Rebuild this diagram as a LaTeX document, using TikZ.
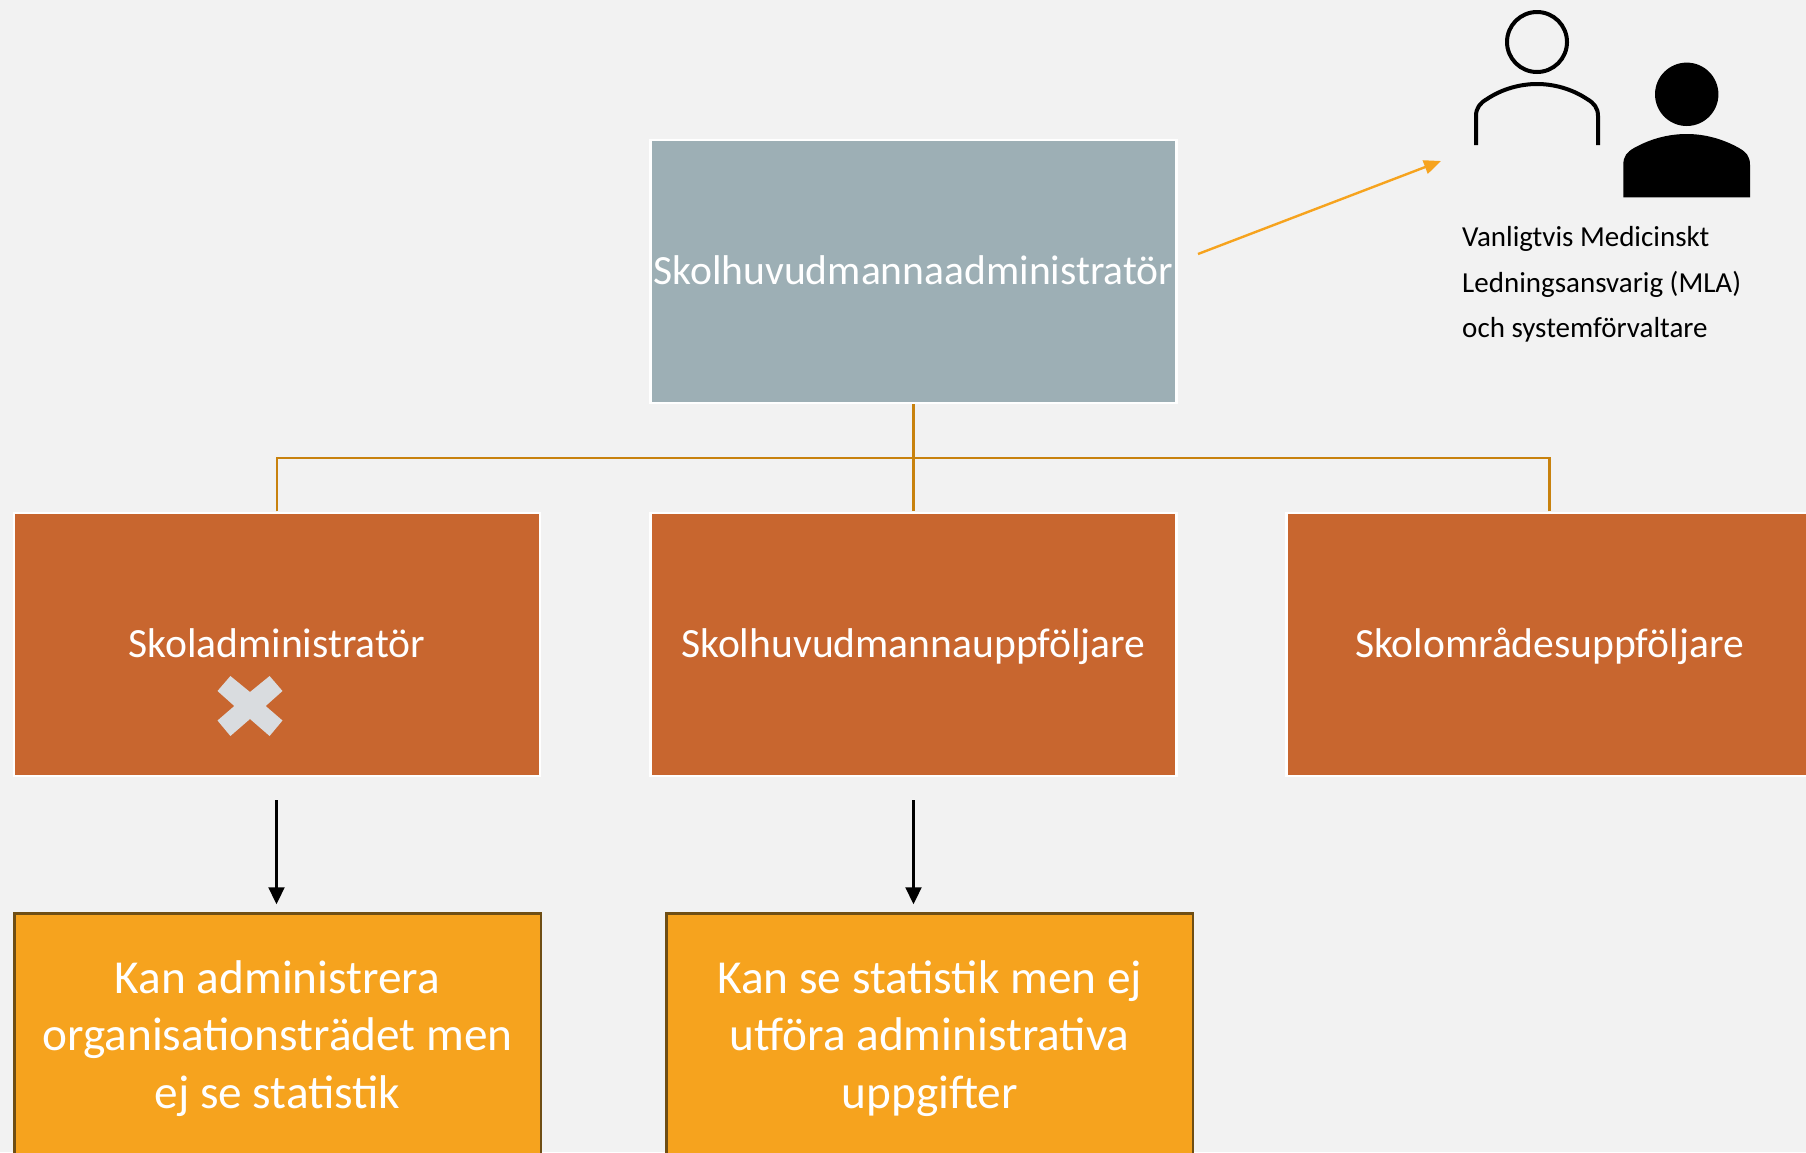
\documentclass[tikz,border=0pt]{standalone}
\usepackage{fontspec}
\setmainfont{Carlito}
\usetikzlibrary{arrows.meta}
\definecolor{bgc}{HTML}{F2F2F2}
\definecolor{topc}{HTML}{9DAFB5}
\definecolor{rowc}{HTML}{C8662F}
\definecolor{botc}{HTML}{F6A31E}
\definecolor{botl}{HTML}{6F4E14}
\definecolor{linec}{HTML}{C8820E}
\definecolor{crossc}{HTML}{D9DCDF}
\tikzset{
 x=1pt,y=-1pt,
 basebox/.style={draw=white,line width=2.5pt,minimum width=526pt,minimum height=263pt,inner sep=0pt,text=white,text height=33pt,text depth=8pt,font=\fontsize{41.6}{48}\selectfont},
 topbox/.style={basebox,fill=topc},
 rowbox/.style={basebox,fill=rowc},
 botbox/.style={draw=botl,line width=2.5pt,fill=botc,minimum width=526.5pt,minimum height=250pt,inner sep=0pt,text=white,align=center,font=\fontsize{47.3}{57.6}\selectfont},
 tree/.style={draw=linec,line width=2.5pt},
 down/.style={draw=black,line width=2.2pt,-{Triangle[length=17pt,width=16pt]}},
 icon/.style={draw=black,line width=4pt},
 note/.style={align=left,text=black,inner sep=0pt,font=\fontsize{29}{45.7}\selectfont}
}
\begin{document}
\begin{tikzpicture}
\useasboundingbox (0,0) rectangle (1806,1152);
\clip (0,0) rectangle (1806,1152);
\fill[bgc] (0,0) rectangle (1806,1152);
\node[topbox] (top) at (913.5,271.5) {Skolhuvudmannaadministratör};
\node[rowbox] (left) at (277,644.5) {Skoladministratör};
\node[rowbox] (mid) at (913.5,644.5) {Skolhuvudmannauppföljare};
\node[rowbox] (right) at (1549.5,644.5) {Skolområdesuppföljare};
\node[botbox] (lowa) at (277.5,1038.5) {Kan administrera\\organisationsträdet men\\ej se statistik};
\node[botbox] (lowb) at (929.7,1038.5) {Kan se statistik men ej\\utföra administrativa\\uppgifter};
% cross mark
\fill[crossc] (230.4,676) -- (250,692) -- (269.6,676) -- (282.5,691) -- (265.7,706) -- (282.5,720.5) -- (269.6,736) -- (250,719) -- (230.4,736) -- (217.5,720.5) -- (234.3,706) -- (217.5,691) -- cycle;
% tree
\coordinate (bus) at (913.5,458);
\draw[tree,line width=3pt] (top.south) -- (bus);
\draw[tree] ([yshift=0.5pt]left.north) |- (bus);
\draw[tree] ([yshift=0.5pt]right.north) |- (bus);
\draw[tree] (bus) -- ([yshift=0.5pt]mid.north);
% black arrows
\coordinate (da) at (276.5,800);
\coordinate (db) at (913.5,800);
\draw[down] (da) -- ([yshift=8pt]lowa.north -| da);
\draw[down] (db) -- ([yshift=8pt]lowb.north -| db);
% orange arrow
\coordinate (oa) at (1198,254);
\coordinate (ob) at (1441,161);
\draw[draw=botc,line width=2.4pt,-{Triangle[length=17pt,width=14pt]}] (oa) -- (ob);
% outline person
\draw[icon] (1537,42) circle[radius=30];
\draw[icon] (1476,145) -- (1476,116) .. controls (1476,108) and (1480,103) .. (1487,99) .. controls (1502,89) and (1520,84) .. (1537,84) .. controls (1554,84) and (1572,89) .. (1587,99) .. controls (1594,103) and (1598,108) .. (1598,116) -- (1598,145);
% filled person
\fill[black] (1686.7,94.3) circle[radius=31.7];
\fill[black] (1623.3,197.3) -- (1623.3,165) .. controls (1623.3,156) and (1627,152) .. (1634,148) .. controls (1650,139) and (1668,134) .. (1686.7,134) .. controls (1705,134) and (1723,139) .. (1739,148) .. controls (1746,152) and (1750,156) .. (1750,165) -- (1750,197.3) -- cycle;
\node[note,anchor=north west] (txt) at (1462,226) {Vanligtvis Medicinskt\\Ledningsansvarig (MLA)\\och systemförvaltare};
\end{tikzpicture}
\end{document}
